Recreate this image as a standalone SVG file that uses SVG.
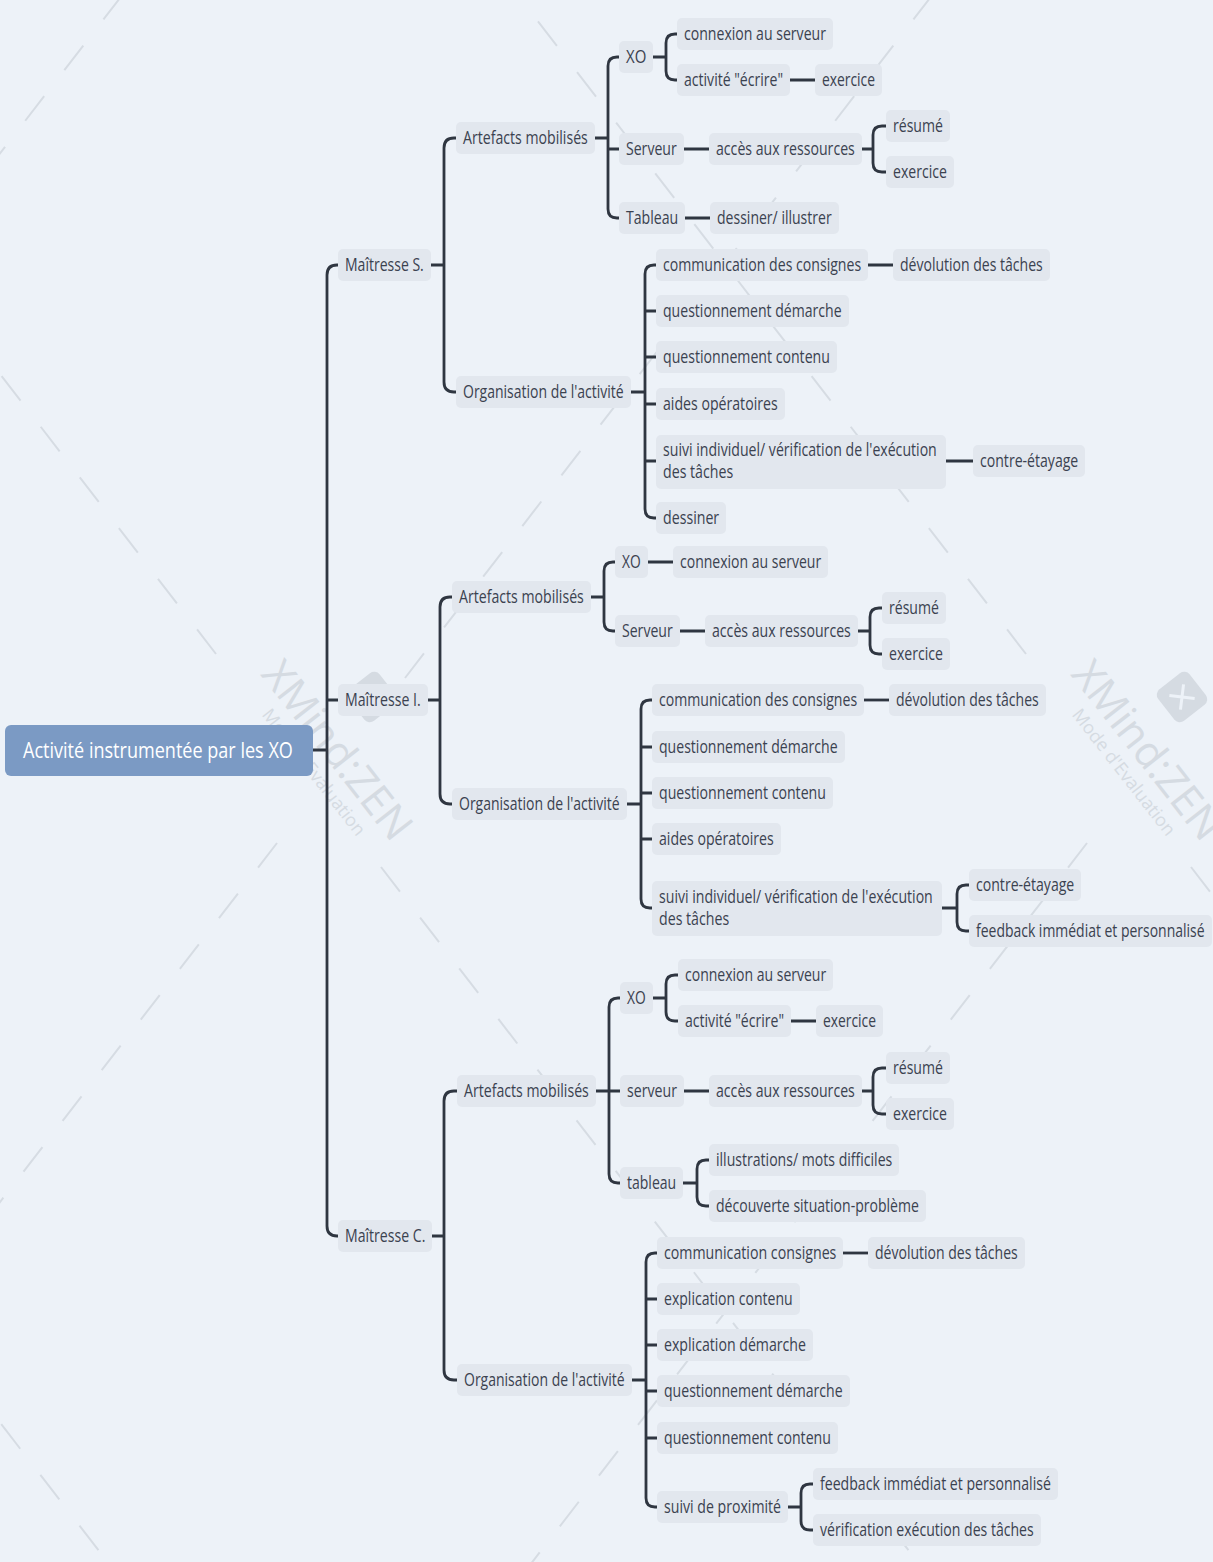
<svg xmlns="http://www.w3.org/2000/svg" width="1213" height="1562" viewBox="0 0 1213 1562">
<style>
.wm-line{fill:none;stroke:#D6DCE3;stroke-width:2;stroke-dasharray:31 33}
.wm-t{font-family:"Open Sans","Noto Sans",sans-serif;fill:#D5DBE2}
.c{fill:none;stroke:#2F3641;stroke-width:2.8;stroke-linecap:butt;stroke-linejoin:round}
.b{fill:#E2E7EE}
.t{font-family:"Open Sans","Noto Sans","DejaVu Sans",sans-serif;font-size:18px;fill:#3B4250}
.root-b{fill:#7B9AC4}
.root-t{font-family:"Open Sans","Noto Sans",sans-serif;font-size:22px;fill:#FFFFFF}
</style>
<defs>
<g id="wmark">
<g transform="translate(52,-91) rotate(52)">
<rect x="-20" y="-20" width="40" height="40" rx="7" fill="#D5DBE2"/>
<path d="M-9 -9 L9 9 M9 -9 L-9 9" stroke="#EDF2F8" stroke-width="3" fill="none"/>
</g>
<text class="wm-t" font-size="42" text-anchor="middle" transform="translate(6,-29) rotate(52)">XMind:ZEN</text>
<text class="wm-t" font-size="18" text-anchor="middle" transform="translate(-11,-12) rotate(52)">Mode d'Evaluation</text>
<path class="wm-line" d="M-104 -134 L-671 -869 M61 79 L671 869 M85 -110 L671 -869 M-43 55 L-671 869"/>
</g>
</defs>
<rect width="1213" height="1562" fill="#EDF2F8"/>
<g id="watermark">
<use href="#wmark" transform="translate(-490,788)"/>
<use href="#wmark" transform="translate(320,788)"/>
<use href="#wmark" transform="translate(1130,788)"/>
</g>
<g id="connectors">
<path class="c" d="M313 750 H327 M338 265 H337 Q327 265 327 275 V1226 Q327 1236 337 1236 H338 M327 700 H338"/>
<path class="c" d="M430 265 H444 M456 138 H454 Q444 138 444 148 V382 Q444 392 454 392 H456"/>
<path class="c" d="M595 138 H608 M619 57 H617 Q608 57 608 66 V209 Q608 218 617 218 H619 M608 149 H619"/>
<path class="c" d="M653 57 H666 M677 34 H675 Q666 34 666 43 V71 Q666 80 675 80 H677"/>
<path class="c" d="M790 80 H815 M684 149 H709 M685 218 H710"/>
<path class="c" d="M862 149 H873 M886 126 H882 Q873 126 873 135 V163 Q873 172 882 172 H886"/>
<path class="c" d="M631 392 H645 M656 265 H654 Q645 265 645 274 V509 Q645 518 654 518 H656 M645 311 H656 M645 357 H656 M645 404 H656 M645 461 H656"/>
<path class="c" d="M868 265 H893 M946 461 H973"/>
<path class="c" d="M428 700 H440 M452 597 H450 Q440 597 440 607 V794 Q440 804 450 804 H452"/>
<path class="c" d="M591 597 H604 M615 562 H613 Q604 562 604 571 V622 Q604 631 613 631 H615"/>
<path class="c" d="M648 562 H673 M680 631 H705"/>
<path class="c" d="M858 631 H870 M882 608 H879 Q870 608 870 617 V645 Q870 654 879 654 H882"/>
<path class="c" d="M627 804 H641 M652 700 H650 Q641 700 641 709 V899 Q641 908 650 908 H652 M641 747 H652 M641 793 H652 M641 839 H652"/>
<path class="c" d="M864 700 H889"/>
<path class="c" d="M942 908 H957 M969 885 H966 Q957 885 957 894 V922 Q957 931 966 931 H969"/>
<path class="c" d="M432 1236 H444 M457 1091 H454 Q444 1091 444 1101 V1370 Q444 1380 454 1380 H457"/>
<path class="c" d="M596 1091 H620 M620 998 H618 Q609 998 609 1007 V1174 Q609 1183 618 1183 H620"/>
<path class="c" d="M653 998 H666 M678 975 H675 Q666 975 666 984 V1012 Q666 1021 675 1021 H678"/>
<path class="c" d="M791 1021 H816 M684 1091 H709"/>
<path class="c" d="M862 1091 H873 M886 1068 H882 Q873 1068 873 1077 V1105 Q873 1114 882 1114 H886"/>
<path class="c" d="M683 1183 H697 M709 1160 H706 Q697 1160 697 1169 V1197 Q697 1206 706 1206 H709"/>
<path class="c" d="M632 1380 H646 M657 1253 H655 Q646 1253 646 1262 V1498 Q646 1507 655 1507 H657 M646 1299 H657 M646 1345 H657 M646 1391 H657 M646 1438 H657"/>
<path class="c" d="M843 1253 H868"/>
<path class="c" d="M788 1507 H801 M813 1484 H810 Q801 1484 801 1493 V1521 Q801 1530 810 1530 H813"/>
</g>
<g id="root"><rect class="root-b" x="5" y="725" width="308" height="51" rx="6"/><text class="root-t" transform="translate(23,758) scale(0.78,1)" textLength="346" lengthAdjust="spacingAndGlyphs">Activité instrumentée par les XO</text></g>
<g id="s"><rect class="b" x="338" y="249" width="93" height="32" rx="5"/><text class="t" transform="translate(345,271) scale(0.78,1)" textLength="101" lengthAdjust="spacingAndGlyphs">Maîtresse S.</text></g>
<g id="s-art"><rect class="b" x="456" y="122" width="139" height="32" rx="5"/><text class="t" transform="translate(463,144) scale(0.78,1)" textLength="160" lengthAdjust="spacingAndGlyphs">Artefacts mobilisés</text></g>
<g id="s-xo"><rect class="b" x="619" y="41" width="34" height="32" rx="5"/><text class="t" transform="translate(626,63) scale(0.78,1)" textLength="26" lengthAdjust="spacingAndGlyphs">XO</text></g>
<g id="s-xo-conn"><rect class="b" x="677" y="18" width="156" height="32" rx="5"/><text class="t" transform="translate(684,40) scale(0.78,1)" textLength="182" lengthAdjust="spacingAndGlyphs">connexion au serveur</text></g>
<g id="s-xo-act"><rect class="b" x="677" y="64" width="113" height="32" rx="5"/><text class="t" transform="translate(684,86) scale(0.78,1)" textLength="127" lengthAdjust="spacingAndGlyphs">activité "écrire"</text></g>
<g id="s-xo-ex"><rect class="b" x="815" y="64" width="67" height="32" rx="5"/><text class="t" transform="translate(822,86) scale(0.78,1)" textLength="68" lengthAdjust="spacingAndGlyphs">exercice</text></g>
<g id="s-serv"><rect class="b" x="619" y="133" width="65" height="32" rx="5"/><text class="t" transform="translate(626,155) scale(0.78,1)" textLength="65" lengthAdjust="spacingAndGlyphs">Serveur</text></g>
<g id="s-acc"><rect class="b" x="709" y="133" width="153" height="32" rx="5"/><text class="t" transform="translate(716,155) scale(0.78,1)" textLength="178" lengthAdjust="spacingAndGlyphs">accès aux ressources</text></g>
<g id="s-res"><rect class="b" x="886" y="110" width="64" height="32" rx="5"/><text class="t" transform="translate(893,132) scale(0.78,1)" textLength="64" lengthAdjust="spacingAndGlyphs">résumé</text></g>
<g id="s-ex2"><rect class="b" x="886" y="156" width="68" height="32" rx="5"/><text class="t" transform="translate(893,178) scale(0.78,1)" textLength="69" lengthAdjust="spacingAndGlyphs">exercice</text></g>
<g id="s-tab"><rect class="b" x="619" y="202" width="66" height="32" rx="5"/><text class="t" transform="translate(626,224) scale(0.78,1)" textLength="67" lengthAdjust="spacingAndGlyphs">Tableau</text></g>
<g id="s-dess"><rect class="b" x="710" y="202" width="129" height="32" rx="5"/><text class="t" transform="translate(717,224) scale(0.78,1)" textLength="147" lengthAdjust="spacingAndGlyphs">dessiner/ illustrer</text></g>
<g id="s-org"><rect class="b" x="456" y="376" width="175" height="32" rx="5"/><text class="t" transform="translate(463,398) scale(0.78,1)" textLength="206" lengthAdjust="spacingAndGlyphs">Organisation de l'activité</text></g>
<g id="s-comm"><rect class="b" x="656" y="249" width="212" height="32" rx="5"/><text class="t" transform="translate(663,271) scale(0.78,1)" textLength="254" lengthAdjust="spacingAndGlyphs">communication des consignes</text></g>
<g id="s-dev"><rect class="b" x="893" y="249" width="157" height="32" rx="5"/><text class="t" transform="translate(900,271) scale(0.78,1)" textLength="183" lengthAdjust="spacingAndGlyphs">dévolution des tâches</text></g>
<g id="s-qd"><rect class="b" x="656" y="295" width="193" height="32" rx="5"/><text class="t" transform="translate(663,317) scale(0.78,1)" textLength="229" lengthAdjust="spacingAndGlyphs">questionnement démarche</text></g>
<g id="s-qc"><rect class="b" x="656" y="341" width="181" height="32" rx="5"/><text class="t" transform="translate(663,363) scale(0.78,1)" textLength="214" lengthAdjust="spacingAndGlyphs">questionnement contenu</text></g>
<g id="s-aides"><rect class="b" x="656" y="388" width="129" height="32" rx="5"/><text class="t" transform="translate(663,410) scale(0.78,1)" textLength="147" lengthAdjust="spacingAndGlyphs">aides opératoires</text></g>
<g id="s-suivi"><rect class="b" x="656" y="435" width="290" height="54" rx="5"/><text class="t" transform="translate(663,456) scale(0.78,1)" textLength="351" lengthAdjust="spacingAndGlyphs">suivi individuel/ vérification de l'exécution</text><text class="t" transform="translate(663,478) scale(0.78,1)" textLength="90" lengthAdjust="spacingAndGlyphs">des tâches</text></g>
<g id="s-contre"><rect class="b" x="973" y="445" width="112" height="32" rx="5"/><text class="t" transform="translate(980,467) scale(0.78,1)" textLength="126" lengthAdjust="spacingAndGlyphs">contre-étayage</text></g>
<g id="s-dessiner"><rect class="b" x="656" y="502" width="70" height="32" rx="5"/><text class="t" transform="translate(663,524) scale(0.78,1)" textLength="72" lengthAdjust="spacingAndGlyphs">dessiner</text></g>
<g id="i"><rect class="b" x="338" y="684" width="90" height="32" rx="5"/><text class="t" transform="translate(345,706) scale(0.78,1)" textLength="97" lengthAdjust="spacingAndGlyphs">Maîtresse I.</text></g>
<g id="i-art"><rect class="b" x="452" y="581" width="139" height="32" rx="5"/><text class="t" transform="translate(459,603) scale(0.78,1)" textLength="160" lengthAdjust="spacingAndGlyphs">Artefacts mobilisés</text></g>
<g id="i-xo"><rect class="b" x="615" y="546" width="33" height="32" rx="5"/><text class="t" transform="translate(622,568) scale(0.78,1)" textLength="24" lengthAdjust="spacingAndGlyphs">XO</text></g>
<g id="i-conn"><rect class="b" x="673" y="546" width="155" height="32" rx="5"/><text class="t" transform="translate(680,568) scale(0.78,1)" textLength="181" lengthAdjust="spacingAndGlyphs">connexion au serveur</text></g>
<g id="i-serv"><rect class="b" x="615" y="615" width="65" height="32" rx="5"/><text class="t" transform="translate(622,637) scale(0.78,1)" textLength="65" lengthAdjust="spacingAndGlyphs">Serveur</text></g>
<g id="i-acc"><rect class="b" x="705" y="615" width="153" height="32" rx="5"/><text class="t" transform="translate(712,637) scale(0.78,1)" textLength="178" lengthAdjust="spacingAndGlyphs">accès aux ressources</text></g>
<g id="i-res"><rect class="b" x="882" y="592" width="64" height="32" rx="5"/><text class="t" transform="translate(889,614) scale(0.78,1)" textLength="64" lengthAdjust="spacingAndGlyphs">résumé</text></g>
<g id="i-ex"><rect class="b" x="882" y="638" width="68" height="32" rx="5"/><text class="t" transform="translate(889,660) scale(0.78,1)" textLength="69" lengthAdjust="spacingAndGlyphs">exercice</text></g>
<g id="i-org"><rect class="b" x="452" y="788" width="175" height="32" rx="5"/><text class="t" transform="translate(459,810) scale(0.78,1)" textLength="206" lengthAdjust="spacingAndGlyphs">Organisation de l'activité</text></g>
<g id="i-comm"><rect class="b" x="652" y="684" width="212" height="32" rx="5"/><text class="t" transform="translate(659,706) scale(0.78,1)" textLength="254" lengthAdjust="spacingAndGlyphs">communication des consignes</text></g>
<g id="i-dev"><rect class="b" x="889" y="684" width="157" height="32" rx="5"/><text class="t" transform="translate(896,706) scale(0.78,1)" textLength="183" lengthAdjust="spacingAndGlyphs">dévolution des tâches</text></g>
<g id="i-qd"><rect class="b" x="652" y="731" width="193" height="32" rx="5"/><text class="t" transform="translate(659,753) scale(0.78,1)" textLength="229" lengthAdjust="spacingAndGlyphs">questionnement démarche</text></g>
<g id="i-qc"><rect class="b" x="652" y="777" width="181" height="32" rx="5"/><text class="t" transform="translate(659,799) scale(0.78,1)" textLength="214" lengthAdjust="spacingAndGlyphs">questionnement contenu</text></g>
<g id="i-aides"><rect class="b" x="652" y="823" width="129" height="32" rx="5"/><text class="t" transform="translate(659,845) scale(0.78,1)" textLength="147" lengthAdjust="spacingAndGlyphs">aides opératoires</text></g>
<g id="i-suivi"><rect class="b" x="652" y="881" width="290" height="55" rx="5"/><text class="t" transform="translate(659,903) scale(0.78,1)" textLength="351" lengthAdjust="spacingAndGlyphs">suivi individuel/ vérification de l'exécution</text><text class="t" transform="translate(659,925) scale(0.78,1)" textLength="90" lengthAdjust="spacingAndGlyphs">des tâches</text></g>
<g id="i-contre"><rect class="b" x="969" y="869" width="112" height="32" rx="5"/><text class="t" transform="translate(976,891) scale(0.78,1)" textLength="126" lengthAdjust="spacingAndGlyphs">contre-étayage</text></g>
<g id="i-feed"><rect class="b" x="969" y="915" width="243" height="32" rx="5"/><text class="t" transform="translate(976,937) scale(0.78,1)" textLength="293" lengthAdjust="spacingAndGlyphs">feedback immédiat et personnalisé</text></g>
<g id="c"><rect class="b" x="338" y="1220" width="94" height="32" rx="5"/><text class="t" transform="translate(345,1242) scale(0.78,1)" textLength="103" lengthAdjust="spacingAndGlyphs">Maîtresse C.</text></g>
<g id="c-art"><rect class="b" x="457" y="1075" width="139" height="32" rx="5"/><text class="t" transform="translate(464,1097) scale(0.78,1)" textLength="160" lengthAdjust="spacingAndGlyphs">Artefacts mobilisés</text></g>
<g id="c-xo"><rect class="b" x="620" y="982" width="33" height="32" rx="5"/><text class="t" transform="translate(627,1004) scale(0.78,1)" textLength="24" lengthAdjust="spacingAndGlyphs">XO</text></g>
<g id="c-conn"><rect class="b" x="678" y="959" width="155" height="32" rx="5"/><text class="t" transform="translate(685,981) scale(0.78,1)" textLength="181" lengthAdjust="spacingAndGlyphs">connexion au serveur</text></g>
<g id="c-act"><rect class="b" x="678" y="1005" width="113" height="32" rx="5"/><text class="t" transform="translate(685,1027) scale(0.78,1)" textLength="127" lengthAdjust="spacingAndGlyphs">activité "écrire"</text></g>
<g id="c-ex1"><rect class="b" x="816" y="1005" width="67" height="32" rx="5"/><text class="t" transform="translate(823,1027) scale(0.78,1)" textLength="68" lengthAdjust="spacingAndGlyphs">exercice</text></g>
<g id="c-serv"><rect class="b" x="620" y="1075" width="64" height="32" rx="5"/><text class="t" transform="translate(627,1097) scale(0.78,1)" textLength="64" lengthAdjust="spacingAndGlyphs">serveur</text></g>
<g id="c-acc"><rect class="b" x="709" y="1075" width="153" height="32" rx="5"/><text class="t" transform="translate(716,1097) scale(0.78,1)" textLength="178" lengthAdjust="spacingAndGlyphs">accès aux ressources</text></g>
<g id="c-res"><rect class="b" x="886" y="1052" width="64" height="32" rx="5"/><text class="t" transform="translate(893,1074) scale(0.78,1)" textLength="64" lengthAdjust="spacingAndGlyphs">résumé</text></g>
<g id="c-ex2"><rect class="b" x="886" y="1098" width="68" height="32" rx="5"/><text class="t" transform="translate(893,1120) scale(0.78,1)" textLength="69" lengthAdjust="spacingAndGlyphs">exercice</text></g>
<g id="c-tab"><rect class="b" x="620" y="1167" width="63" height="32" rx="5"/><text class="t" transform="translate(627,1189) scale(0.78,1)" textLength="63" lengthAdjust="spacingAndGlyphs">tableau</text></g>
<g id="c-ill"><rect class="b" x="709" y="1144" width="190" height="32" rx="5"/><text class="t" transform="translate(716,1166) scale(0.78,1)" textLength="226" lengthAdjust="spacingAndGlyphs">illustrations/ mots difficiles</text></g>
<g id="c-dec"><rect class="b" x="709" y="1190" width="217" height="32" rx="5"/><text class="t" transform="translate(716,1212) scale(0.78,1)" textLength="260" lengthAdjust="spacingAndGlyphs">découverte situation-problème</text></g>
<g id="c-org"><rect class="b" x="457" y="1364" width="175" height="32" rx="5"/><text class="t" transform="translate(464,1386) scale(0.78,1)" textLength="206" lengthAdjust="spacingAndGlyphs">Organisation de l'activité</text></g>
<g id="c-comm"><rect class="b" x="657" y="1237" width="186" height="32" rx="5"/><text class="t" transform="translate(664,1259) scale(0.78,1)" textLength="221" lengthAdjust="spacingAndGlyphs">communication consignes</text></g>
<g id="c-dev"><rect class="b" x="868" y="1237" width="157" height="32" rx="5"/><text class="t" transform="translate(875,1259) scale(0.78,1)" textLength="183" lengthAdjust="spacingAndGlyphs">dévolution des tâches</text></g>
<g id="c-ec"><rect class="b" x="657" y="1283" width="143" height="32" rx="5"/><text class="t" transform="translate(664,1305) scale(0.78,1)" textLength="165" lengthAdjust="spacingAndGlyphs">explication contenu</text></g>
<g id="c-ed"><rect class="b" x="657" y="1329" width="156" height="32" rx="5"/><text class="t" transform="translate(664,1351) scale(0.78,1)" textLength="182" lengthAdjust="spacingAndGlyphs">explication démarche</text></g>
<g id="c-qd"><rect class="b" x="657" y="1375" width="193" height="32" rx="5"/><text class="t" transform="translate(664,1397) scale(0.78,1)" textLength="229" lengthAdjust="spacingAndGlyphs">questionnement démarche</text></g>
<g id="c-qc"><rect class="b" x="657" y="1422" width="181" height="32" rx="5"/><text class="t" transform="translate(664,1444) scale(0.78,1)" textLength="214" lengthAdjust="spacingAndGlyphs">questionnement contenu</text></g>
<g id="c-suivi"><rect class="b" x="657" y="1491" width="131" height="32" rx="5"/><text class="t" transform="translate(664,1513) scale(0.78,1)" textLength="150" lengthAdjust="spacingAndGlyphs">suivi de proximité</text></g>
<g id="c-feed"><rect class="b" x="813" y="1468" width="245" height="32" rx="5"/><text class="t" transform="translate(820,1490) scale(0.78,1)" textLength="296" lengthAdjust="spacingAndGlyphs">feedback immédiat et personnalisé</text></g>
<g id="c-verif"><rect class="b" x="813" y="1514" width="228" height="32" rx="5"/><text class="t" transform="translate(820,1536) scale(0.78,1)" textLength="274" lengthAdjust="spacingAndGlyphs">vérification exécution des tâches</text></g>
</svg>
